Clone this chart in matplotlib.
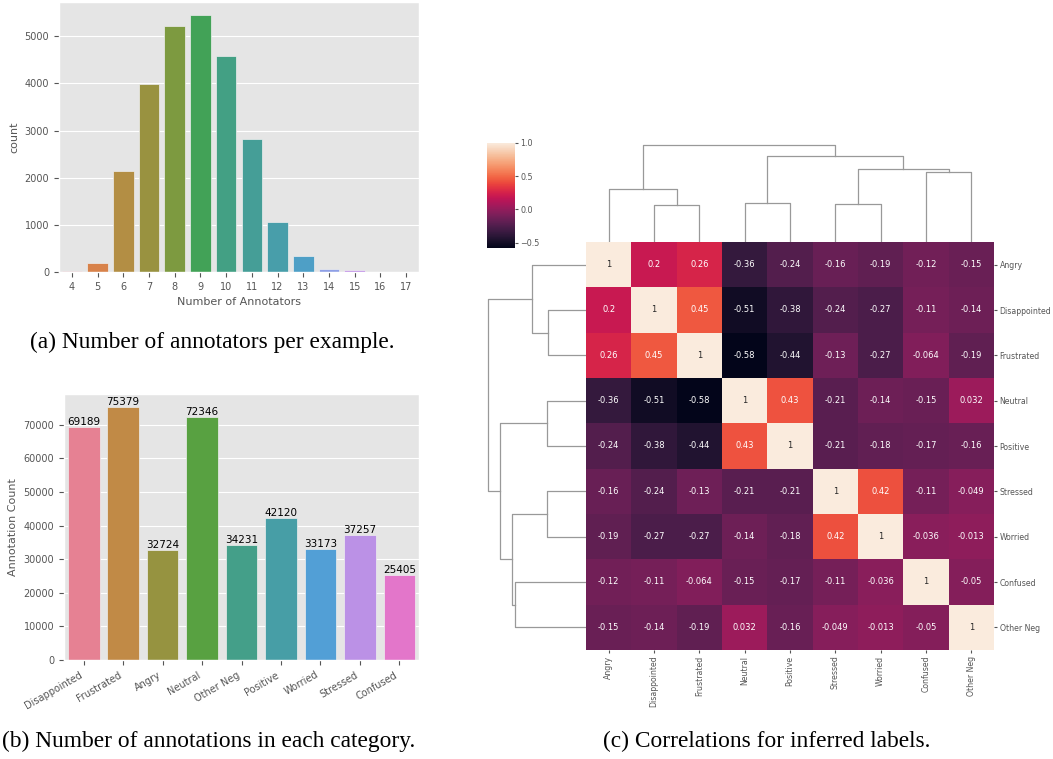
import numpy as np
import pandas as pd
import matplotlib
matplotlib.use('Agg')
import matplotlib.pyplot as plt
import seaborn as sns

plt.style.use('ggplot')

W, H = 1053, 759

# (a) number of annotators per example
n_annot = [4, 5, 6, 7, 8, 9, 10, 11, 12, 13, 14, 15, 16, 17]
n_annot_count = [14, 191, 2136, 3996, 5226, 5452, 4590, 2822, 1054, 347, 66, 33, 4, 2]

# (b) annotations per category
cats = ['Disappointed', 'Frustrated', 'Angry', 'Neutral', 'Other Neg',
        'Positive', 'Worried', 'Stressed', 'Confused']
cat_counts = [69189, 75379, 32724, 72346, 34231, 42120, 33173, 37257, 25405]

# (c) correlations (already in clustered order)
labels = ['Angry', 'Disappointed', 'Frustrated', 'Neutral', 'Positive',
          'Stressed', 'Worried', 'Confused', 'Other Neg']
corr = [
    [1, 0.2, 0.26, -0.36, -0.24, -0.16, -0.19, -0.12, -0.15],
    [0.2, 1, 0.45, -0.51, -0.38, -0.24, -0.27, -0.11, -0.14],
    [0.26, 0.45, 1, -0.58, -0.44, -0.13, -0.27, -0.064, -0.19],
    [-0.36, -0.51, -0.58, 1, 0.43, -0.21, -0.14, -0.15, 0.032],
    [-0.24, -0.38, -0.44, 0.43, 1, -0.21, -0.18, -0.17, -0.16],
    [-0.16, -0.24, -0.13, -0.21, -0.21, 1, 0.42, -0.11, -0.049],
    [-0.19, -0.27, -0.27, -0.14, -0.18, 0.42, 1, -0.036, -0.013],
    [-0.12, -0.11, -0.064, -0.15, -0.17, -0.11, -0.036, 1, -0.05],
    [-0.15, -0.14, -0.19, 0.032, -0.16, -0.049, -0.013, -0.05, 1],
]
# linkage: (cluster a, cluster b, height), new clusters numbered from 9
merges = [(1, 2, 37.7), (5, 6, 38.7), (3, 4, 39.3), (0, 9, 53.7),
          (7, 8, 70.7), (10, 13, 73.7), (11, 14, 86.0), (12, 15, 97.7)]


def px(l, t, r, b):
    return [l / W, 1 - b / H, (r - l) / W, (b - t) / H]


def bar_colors(n):
    return [sns.desaturate(c, .75) for c in sns.color_palette('husl', n)]


def dendro_segments(merges, n):
    pos = {i: i + 0.5 for i in range(n)}
    hgt = {i: 0.0 for i in range(n)}
    segs = []
    for k, (a, b, h) in enumerate(merges):
        segs.append(([pos[a], pos[a], pos[b], pos[b]], [hgt[a], h, h, hgt[b]]))
        pos[n + k] = (pos[a] + pos[b]) / 2
        hgt[n + k] = h
    return segs


fig = plt.figure(figsize=(W / 100, H / 100), dpi=100)
fig.set_facecolor('white')

gray = '#555555'

# ---- (a)
ax_a = fig.add_axes(px(59, 2, 419, 272))
xa = np.arange(len(n_annot))
ax_a.bar(xa, n_annot_count, width=0.8, color=bar_colors(len(n_annot)),
         edgecolor='#EEEEEE', linewidth=0.5)
ax_a.set_xticks(xa)
ax_a.set_xticklabels([str(v) for v in n_annot])
ax_a.set_xlim(-0.5, len(n_annot) - 0.5)
ax_a.xaxis.grid(False)
ax_a.set_xlabel('Number of Annotators', fontsize=8, color=gray)
ax_a.set_ylabel('count', fontsize=8, color=gray)
ax_a.tick_params(labelsize=7, colors=gray)

# ---- (b)
ax_b = fig.add_axes(px(64, 394, 419, 660))
xb = np.arange(len(cats))
bars = ax_b.bar(xb, cat_counts, width=0.8, color=bar_colors(len(cats)),
                edgecolor='#EEEEEE', linewidth=0.5)
ax_b.bar_label(bars, labels=[str(v) for v in cat_counts], fontsize=7.5, padding=0)
ax_b.set_xticks(xb)
ax_b.set_xticklabels(cats, rotation=30, ha='right')
ax_b.set_xlim(-0.5, len(cats) - 0.5)
ax_b.xaxis.grid(False)
ax_b.set_ylabel('Annotation Count', fontsize=8, color=gray)
ax_b.tick_params(labelsize=7, colors=gray)

# ---- (c) clustermap pieces
ax_cd = fig.add_axes(px(586, 140, 994, 242))
ax_rd = fig.add_axes(px(483, 242, 586, 650))
ax_h = fig.add_axes(px(586, 242, 994, 650))
ax_cb = fig.add_axes(px(487, 143, 515, 248))
ax_cb.set_zorder(5)

df = pd.DataFrame(corr, index=labels, columns=labels)
sns.heatmap(df, ax=ax_h, cbar_ax=ax_cb, annot=True, annot_kws={'size': 6})
ax_h.yaxis.tick_right()
ax_h.set_xticks(np.arange(len(labels)) + 0.5)
ax_h.set_yticks(np.arange(len(labels)) + 0.5)
ax_h.set_xticklabels(labels, rotation=90)
ax_h.set_yticklabels(labels, rotation=0)
ax_h.tick_params(labelsize=5.6, colors=gray, length=2.5, pad=1.5)
ax_cb.tick_params(labelsize=5.8, colors=gray, length=2.5, pad=1.5)

maxh = max(m[2] for m in merges)
for xs, ys in dendro_segments(merges, len(labels)):
    ax_cd.plot(xs, ys, color='#999999', lw=0.9)
    ax_rd.plot(ys, xs, color='#999999', lw=0.9)
ax_cd.set_xlim(0, len(labels))
ax_cd.set_ylim(0, maxh * 1.05)
ax_rd.set_ylim(len(labels), 0)
ax_rd.set_xlim(maxh * 1.05, 0)
for ax in (ax_cd, ax_rd):
    ax.patch.set_visible(False)
    ax.grid(False)
    ax.set_xticks([])
    ax.set_yticks([])
    for s in ax.spines.values():
        s.set_visible(False)

# captions
cap = dict(family='Liberation Serif', fontsize=16.8, ha='center', va='center', color='black')
fig.text(212 / W, 1 - 342 / H, '(a) Number of annotators per example.', **cap)
fig.text(209 / W, 1 - 741 / H, '(b) Number of annotations in each category.', **cap)
fig.text(767 / W, 1 - 741 / H, '(c) Correlations for inferred labels.', **cap)

fig.savefig('out.png', dpi=100)
